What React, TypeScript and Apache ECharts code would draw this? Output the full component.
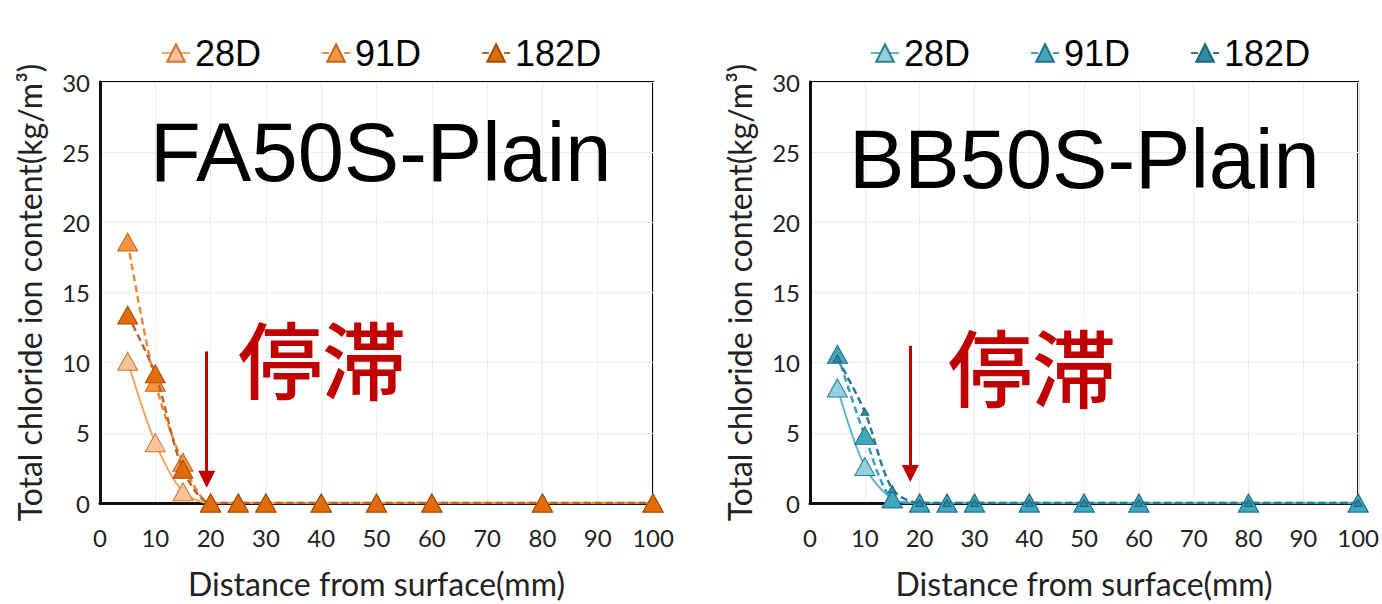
import React, { useEffect, useRef } from "react";
import * as echarts from "echarts";

const distances = [5, 10, 15, 20, 25, 30, 40, 50, 60, 80, 100];
const seriesNames = ["28D", "91D", "182D"];

const fa28 = [10.1, 4.3, 0.8, 0, 0, 0, 0, 0, 0, 0, 0];
const fa91 = [18.6, 8.6, 2.9, 0, 0, 0, 0, 0, 0, 0, 0];
const fa182 = [13.4, 9.2, 2.4, 0, 0, 0, 0, 0, 0, 0, 0];

const bb28 = [8.2, 2.6, 0.3, 0, 0, 0, 0, 0, 0, 0, 0];
const bb91 = [10.6, 4.8, 0.3, 0, 0, 0, 0, 0, 0, 0, 0];
const bb182 = [10.3, 6.5, 1.0, 0, 0, 0, 0, 0, 0, 0, 0];

const yTicks = [0, 5, 10, 15, 20, 25, 30];
const xTicks = [0, 10, 20, 30, 40, 50, 60, 70, 80, 90, 100];

const faArrow = [19.3, 10.8, 1.7];
const bbArrow = [18.3, 11.2, 2.1];

const labelFont = "Lato, 'Noto Sans', sans-serif";

type Sty = { line: string; fill: string; border: string; dash: boolean; size: number | number[]; width: number };

const faStyles: Sty[] = [
  { line: "#f5a463", fill: "#f8c29a", border: "#cf7630", dash: false, size: [20, 18], width: 2 },
  { line: "#ee8a35", fill: "#f3963f", border: "#c4661e", dash: true, size: [20, 18], width: 2.5 },
  { line: "#b8652b", fill: "#e26b0a", border: "#a24d0a", dash: true, size: [20, 18], width: 2.5 },
];
const bbStyles: Sty[] = [
  { line: "#5ab7cf", fill: "#93cfdf", border: "#2f7f94", dash: false, size: [20, 18], width: 2 },
  { line: "#3aa2bd", fill: "#40a7c1", border: "#23708a", dash: true, size: [20, 18], width: 2.5 },
  { line: "#2b7b8e", fill: "#2e8aa0", border: "#1f6677", dash: true, size: [8, 7], width: 2.5 },
];

function buildOption(
  values: number[][],
  styles: Sty[],
  gridLeft: number,
  gridRight: number,
  legendLeft: number,
  title: string,
  titleX: number,
  titleY: number,
  noteX: number,
  noteY: number,
  arrow: number[]
) {
  const series = values.map((vals, i) => {
    const s = styles[i];
    const o: any = {
      name: seriesNames[i],
      type: "line",
      smooth: 0.3,
      data: distances.map((d, k) => [d, vals[k]]),
      symbol: "triangle",
      symbolSize: s.size,
      lineStyle: { color: s.line, width: s.width, type: s.dash ? [7, 4] : "solid" },
      itemStyle: { color: s.fill, borderColor: s.border, borderWidth: 1 },
      z: 3 + i,
      silent: true,
    };
    if (i === 0) {
      o.markLine = {
        silent: true,
        symbol: ["none", "triangle"],
        symbolSize: 17,
        label: { show: false },
        lineStyle: { color: "#c00000", width: 3, type: "solid" },
        emphasis: { disabled: true },
        data: [[{ coord: [arrow[0], arrow[1]] }, { coord: [arrow[0], arrow[2]] }]],
      };
    }
    return o;
  });
  return {
    animation: false,
    backgroundColor: "#fff",
    legend: {
      top: 35,
      left: legendLeft,
      padding: 0,
      itemGap: 60,
      itemWidth: 28,
      itemHeight: 22,
      textStyle: { fontFamily: "'Liberation Sans', Arial, sans-serif", fontSize: 36, color: "#000" },
      data: seriesNames,
      selectedMode: false,
    },
    grid: {
      left: gridLeft,
      right: gridRight,
      top: 82,
      bottom: 100,
      show: true,
      borderColor: "#000",
      borderWidth: 2,
      backgroundColor: "transparent",
    },
    xAxis: {
      type: "value",
      min: xTicks[0],
      max: xTicks[xTicks.length - 1],
      interval: 10,
      name: "Distance from surface(mm)",
      nameLocation: "middle",
      nameGap: 64,
      nameTextStyle: { fontFamily: labelFont, fontSize: 32, color: "#222" },
      axisLine: { show: true, lineStyle: { color: "#111", width: 3 } },
      axisTick: { show: false },
      axisLabel: { fontFamily: labelFont, fontSize: 24, color: "#222", margin: 22 },
      splitLine: { show: true, lineStyle: { color: "#ebebeb", width: 1 } },
    },
    yAxis: {
      type: "value",
      min: yTicks[0],
      max: yTicks[yTicks.length - 1],
      interval: 5,
      name: "Total chloride ion content(kg/m³)",
      nameLocation: "middle",
      nameGap: 55,
      nameTextStyle: { fontFamily: labelFont, fontSize: 32, color: "#222" },
      axisLine: { show: true, lineStyle: { color: "#111", width: 3 } },
      axisTick: { show: false },
      axisLabel: { fontFamily: labelFont, fontSize: 24, color: "#222", margin: 10 },
      splitLine: { show: true, lineStyle: { color: "#ebebeb", width: 1 } },
    },
    graphic: [
      {
        type: "text",
        x: titleX,
        y: titleY,
        z: 100,
        silent: true,
        style: {
          text: title,
          fill: "#000",
          font: "83px 'Liberation Sans', Arial, sans-serif",
          verticalAlign: "middle",
        },
      },
      {
        type: "text",
        x: noteX,
        y: noteY,
        z: 100,
        silent: true,
        style: {
          text: "停滞",
          fill: "#c00000",
          font: "500 84px 'Noto Sans CJK JP', 'Noto Sans CJK SC', sans-serif",
          verticalAlign: "middle",
        },
      },
    ],
    series,
  };
}

function Chart({ option, width, height }: { option: any; width: number; height: number }) {
  const ref = useRef<HTMLDivElement>(null);
  useEffect(() => {
    if (!ref.current) return;
    const chart = echarts.init(ref.current, undefined, { renderer: "svg" });
    chart.setOption(option);
    return () => chart.dispose();
  }, [option]);
  return <div ref={ref} style={{ width, height }} />;
}

const leftOption = buildOption(
  [fa28, fa91, fa182],
  faStyles,
  100,
  38,
  161,
  "FA50S-Plain",
  150,
  152,
  238,
  356,
  faArrow
);
const rightOption = buildOption(
  [bb28, bb91, bb182],
  bbStyles,
  119,
  17,
  179,
  "BB50S-Plain",
  158,
  159,
  257,
  364,
  bbArrow
);

export default function App() {
  return (
    <div
      style={{
        position: "absolute",
        left: 0,
        top: 0,
        width: 1382,
        height: 604,
        display: "flex",
        background: "#fff",
      }}
    >
      <Chart option={leftOption} width={691} height={604} />
      <Chart option={rightOption} width={691} height={604} />
    </div>
  );
}
